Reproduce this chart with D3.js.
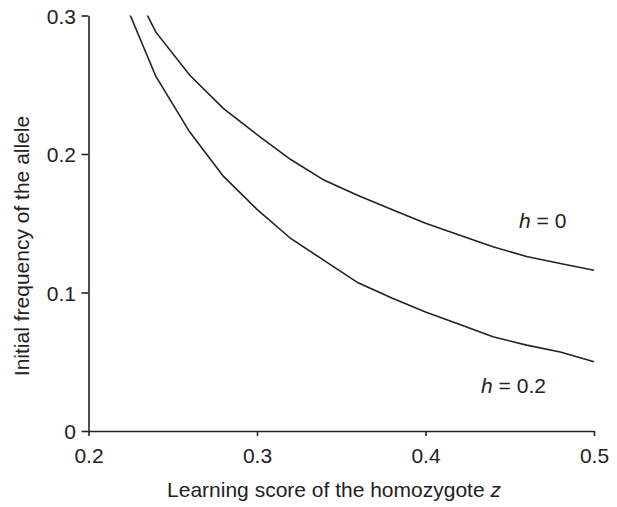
<!DOCTYPE html>
<html><head><meta charset="utf-8">
<script src="https://cdn.jsdelivr.net/npm/d3@7"></script>
<style>body{margin:0;background:#fff}svg{display:block}text{font-family:"Liberation Sans",Arial,sans-serif;fill:#222}</style>
</head><body><svg id="c" width="617" height="507"></svg>
<script>
const zValues = [0.22,0.24,0.26,0.28,0.30,0.32,0.34,0.36,0.38,0.40,0.42,0.44,0.46,0.48,0.50];
const h0 =  [0.336,0.288,0.257,0.233,0.214,0.196,0.181,0.170,0.160,0.150,0.1415,0.133,0.126,0.121,0.116];
const h02 = [0.314,0.256,0.216,0.184,0.160,0.139,0.123,0.107,0.096,0.086,0.077,0.068,0.062,0.057,0.050];
const xTicks = [0.2,0.3,0.4,0.5];
const yTicks = [0,0.1,0.2,0.3];
const labels = [{text:"h",rest:" = 0",z:0.4555,v:0.1466},{text:"h",rest:" = 0.2",z:0.4330,v:0.0274}];

const svg = d3.select("#c");
const x = d3.scaleLinear().domain([0.2,0.5]).range([88.5,594]);
const y = d3.scaleLinear().domain([0,0.3]).range([431,15.5]);
const fs = 21;

svg.append("defs").append("clipPath").attr("id","clip").append("rect")
  .attr("x",x(0.2)).attr("y",y(0.3)).attr("width",x(0.5)-x(0.2)+2).attr("height",y(0)-y(0.3));

const xa = svg.append("g").attr("transform",`translate(0,${y(0)})`)
  .call(d3.axisBottom(x).tickValues(xTicks).tickFormat(d3.format(".1f")).tickSize(5).tickSizeOuter(0).tickPadding(12));
const ya = svg.append("g").attr("transform",`translate(${x(0.2)},0)`)
  .call(d3.axisLeft(y).tickValues(yTicks).tickFormat(d=>d===0?"0":d3.format(".1f")(d)).tickSize(7).tickSizeOuter(0).tickPadding(5.5));
[xa,ya].forEach(a=>{
  a.selectAll("path,line").attr("stroke","#222").attr("stroke-width",1.6);
  a.selectAll("text").attr("font-size",fs).attr("fill","#222").attr("font-family","Liberation Sans, Arial, sans-serif");
});
xa.selectAll("text").attr("dy","0.71em");
ya.selectAll("text").attr("dy","0.36em");

const line = d3.line().x((d,i)=>x(zValues[i])).y(d=>y(d));
[h0,h02].forEach(s=>{
  svg.append("path").attr("d",line(s)).attr("clip-path","url(#clip)")
    .attr("fill","none").attr("stroke","#222").attr("stroke-width",1.6);
});

labels.forEach(l=>{
  const t = svg.append("text").attr("x",x(l.z)).attr("y",y(l.v)).attr("font-size",fs);
  t.append("tspan").attr("font-style","italic").text(l.text);
  t.append("tspan").text(l.rest);
});

svg.append("text").attr("x",334).attr("y",497).attr("text-anchor","middle").attr("font-size",fs)
  .text("Learning score of the homozygote ").append("tspan").attr("font-style","italic").text("z");
svg.append("text").attr("transform",`translate(28.5,246) rotate(-90)`).attr("text-anchor","middle").attr("font-size",fs)
  .text("Initial frequency of the allele");
</script></body></html>
